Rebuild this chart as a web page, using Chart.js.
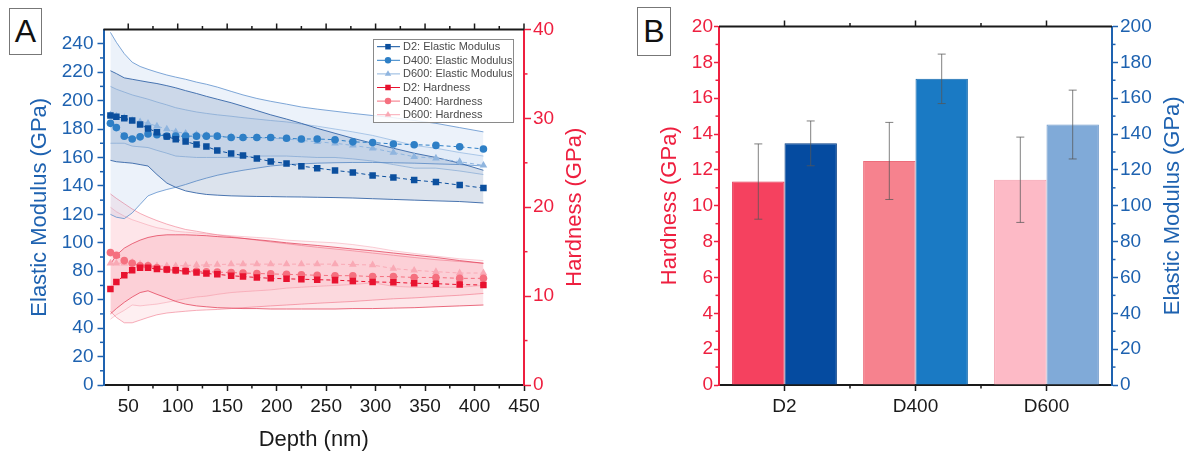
<!DOCTYPE html>
<html>
<head>
<meta charset="utf-8">
<script src="https://cdn.jsdelivr.net/npm/chart.js@4.4.1/dist/chart.umd.min.js"></script>
<style>
  html, body { margin: 0; padding: 0; background: #fff; }
  body { width: 1186px; height: 453px; position: relative; overflow: hidden; font-family: "Liberation Sans", Arial, sans-serif; }
  .panel { position: absolute; top: 0; height: 453px; }
  #panelA { left: 0; width: 600px; }
  #panelB { left: 600px; width: 586px; }
  .tag { position: absolute; box-sizing: border-box; border: 1.5px solid #777; background: #fff; color: #111; text-align: center; font-size: 32px; z-index: 2; }
  #tagA { left: 9px; top: 8px; width: 33px; height: 47px; line-height: 45px; }
  #tagB { left: 637px; top: 7px; width: 34px; height: 49px; line-height: 47px; }
</style>
</head>
<body>
<div class="panel" id="panelA"><canvas id="chartA" width="600" height="453"></canvas></div>
<div class="panel" id="panelB"><canvas id="chartB" width="586" height="453"></canvas></div>
<div class="tag" id="tagA">A</div>
<div class="tag" id="tagB">B</div>
<script>
// ---- Panel A: depth profiles (mean, and upper/lower edge of the spread band) ----
const depth = [32, 38, 46, 54, 62, 70, 79, 89, 98, 108, 119, 129, 140, 154, 166, 180, 194, 210, 225, 241, 259, 277, 297, 318, 339, 361, 385, 409];

const d2Modulus   = [189.5, 188.6, 187.6, 186, 183.2, 180.4, 177.8, 174.7, 172.8, 171.2, 169.1, 167.7, 164.9, 162.8, 161.4, 159.3, 157.2, 155.8, 153.9, 152.5, 150.9, 149.5, 147.4, 146, 144.1, 142.7, 140.6, 138.5];
const d2ModulusHi = [221, 219, 216, 215, 214, 213, 212, 210.5, 209, 207, 205, 203, 201, 198.5, 196, 193, 190, 187, 184, 180.5, 177, 173.5, 170, 166.5, 163, 160, 156, 151];
const d2ModulusLo = [158, 157, 156.5, 156, 155, 154, 148, 142, 139, 136.5, 135, 134, 133.5, 133, 132.8, 132.6, 132.5, 132.3, 132.2, 132, 131.8, 131.5, 131, 130.5, 130, 129.5, 129, 128];

const d400Modulus   = [184, 181, 175, 173, 174.5, 176.5, 176, 175, 175, 175, 175, 175, 175, 174, 174, 174, 174, 173.5, 173, 173, 172.5, 171, 170.5, 169.5, 169, 168.5, 167.5, 166];
const d400ModulusHi = [248, 241, 233, 227, 224, 222, 220, 218, 216.5, 215, 213, 211.5, 209.5, 206.5, 204, 201.5, 199.5, 197.5, 195.5, 194, 192.5, 191, 189.5, 188, 186, 184, 181, 178];
const d400ModulusLo = [120, 118, 117, 121, 127, 133, 135.5, 137.5, 139, 141, 143.5, 145.5, 147.5, 149.5, 151, 152.5, 154, 155, 155.5, 156, 156.3, 156.5, 156.5, 156.3, 156, 155.5, 155, 154];

const d600Modulus   = [190, 189, 188, 186, 185, 184, 182, 180, 178, 177, 176, 175.5, 175, 174.5, 174, 174, 173.5, 173, 172, 171, 170, 168.5, 166.5, 163.5, 160.5, 159.5, 157, 154.5];
const d600ModulusHi = [210, 208, 206, 204, 202.5, 201, 199, 197, 195, 193.5, 192, 191, 190, 189, 188, 187, 186, 185, 183.5, 182, 180, 178, 175.5, 172, 168.5, 166.5, 163.5, 161];
const d600ModulusLo = [170, 170, 170, 168, 167.5, 167, 165, 163, 161, 160.5, 160, 160, 160, 160, 160, 161, 161, 161, 160.5, 160, 160, 159, 157.5, 155, 152.5, 152.5, 150.5, 148];

const d2Hardness   = [10.8, 11.6, 12.35, 12.9, 13.2, 13.2, 13.05, 13.0, 12.9, 12.8, 12.65, 12.55, 12.45, 12.3, 12.2, 12.1, 12.0, 11.95, 11.9, 11.85, 11.8, 11.7, 11.6, 11.55, 11.45, 11.4, 11.3, 11.25];
const d2HardnessHi = [13.6, 14.6, 15.4, 15.9, 16.3, 16.6, 16.8, 16.9, 16.9, 16.9, 16.85, 16.8, 16.7, 16.6, 16.5, 16.35, 16.2, 16.0, 15.85, 15.7, 15.5, 15.3, 15.1, 14.85, 14.6, 14.35, 14.0, 13.7];
const d2HardnessLo = [8.0, 8.6, 9.3, 9.9, 10.4, 10.6, 10.2, 9.8, 9.4, 9.1, 8.9, 8.8, 8.7, 8.65, 8.6, 8.6, 8.55, 8.55, 8.55, 8.55, 8.55, 8.6, 8.6, 8.65, 8.7, 8.8, 8.9, 9.0];

const d400Hardness   = [14.9, 14.6, 14.0, 13.7, 13.4, 13.4, 13.2, 13.0, 12.9, 12.85, 12.8, 12.75, 12.7, 12.65, 12.6, 12.55, 12.5, 12.45, 12.4, 12.35, 12.3, 12.3, 12.2, 12.2, 12.1, 12.1, 12.0, 12.0];
const d400HardnessHi = [21.5, 21.0, 20.4, 19.8, 19.3, 18.9, 18.5, 18.1, 17.8, 17.5, 17.3, 17.1, 16.9, 16.7, 16.5, 16.3, 16.1, 15.9, 15.7, 15.5, 15.3, 15.1, 14.85, 14.6, 14.35, 14.1, 13.9, 13.7];
const d400HardnessLo = [8.3, 7.6, 7.0, 7.0, 7.3, 7.6, 7.9, 8.1, 8.2, 8.3, 8.4, 8.45, 8.5, 8.6, 8.7, 8.8, 8.9, 9.0, 9.1, 9.2, 9.3, 9.4, 9.55, 9.7, 9.8, 9.95, 10.1, 10.3];

const d600Hardness   = [13.7, 13.7, 13.7, 13.8, 13.6, 13.5, 13.4, 13.4, 13.4, 13.45, 13.5, 13.5, 13.55, 13.6, 13.6, 13.6, 13.6, 13.6, 13.6, 13.6, 13.6, 13.55, 13.5, 13.1, 12.9, 12.75, 12.6, 12.6];
const d600HardnessHi = [20.0, 19.5, 19.0, 18.6, 18.3, 18.0, 17.7, 17.5, 17.3, 17.2, 17.1, 17.0, 16.9, 16.8, 16.7, 16.6, 16.5, 16.3, 16.2, 16.1, 16.0, 15.8, 15.5, 15.1, 14.8, 14.5, 14.2, 14.0];
const d600HardnessLo = [7.4, 7.9, 8.4, 9.0, 8.9, 9.0, 9.1, 9.3, 9.5, 9.7, 9.9, 10.0, 10.2, 10.4, 10.5, 10.6, 10.7, 10.9, 11.0, 11.1, 11.2, 11.3, 11.5, 11.1, 11.0, 11.0, 11.0, 11.2];

const depthTicks = [50, 100, 150, 200, 250, 300, 350, 400, 450];
const modulusTicksA = [0, 20, 40, 60, 80, 100, 120, 140, 160, 180, 200, 220, 240];
const hardnessTicksA = [0, 10, 20, 30, 40];

// ---- Panel B: averages with standard deviation ----
const categories = ['D2', 'D400', 'D600'];
const hardnessMean = [11.35, 12.5, 11.45];
const hardnessSd = [2.1, 2.15, 2.38];
const modulusMean = [134.8, 170.8, 145.3];
const modulusSd = [12.5, 13.8, 19.2];

const hardnessTicksB = [0, 2, 4, 6, 8, 10, 12, 14, 16, 18, 20];
const modulusTicksB = [0, 20, 40, 60, 80, 100, 120, 140, 160, 180, 200];

// Styles
const FONT = '"Liberation Sans", Arial, Helvetica, sans-serif';
const BLUE = '#1e62b0';
const RED = '#ee1f3f';
const INK = '#1a1a1a';

const mids = a => a.slice(1).map((v, i) => (v + a[i]) / 2);
const pts = ys => depth.map((x, i) => ({ x, y: ys[i] }));
const useTicks = arr => s => { s.ticks = arr.map(v => ({ value: v })); };

function band(hi, lo, axis, edge, fillColor) {
  return [
    { data: pts(hi), yAxisID: axis, borderColor: edge, borderWidth: 1, pointRadius: 0, fill: '+1', backgroundColor: fillColor, order: 10 },
    { data: pts(lo), yAxisID: axis, borderColor: edge, borderWidth: 1, pointRadius: 0, fill: false, order: 10 }
  ];
}

function series(label, ys, axis, color, style, r) {
  return {
    label, data: pts(ys), yAxisID: axis, borderColor: color, backgroundColor: color,
    borderWidth: 1, borderDash: [4, 3], pointStyle: style, pointRadius: r,
    pointBorderWidth: 0, fill: false, order: 0
  };
}

function drawMarker(ctx, style, x, y, r, color) {
  ctx.fillStyle = color;
  ctx.beginPath();
  if (style === 'rect') {
    const s = r * Math.SQRT1_2;
    ctx.rect(x - s, y - s, 2 * s, 2 * s);
  } else if (style === 'circle') {
    ctx.arc(x, y, r, 0, Math.PI * 2);
  } else {
    ctx.moveTo(x, y - r);
    ctx.lineTo(x + r * 0.866, y + r * 0.5);
    ctx.lineTo(x - r * 0.866, y + r * 0.5);
    ctx.closePath();
  }
  ctx.fill();
}

// Top axis, minor ticks
const framePlugin = {
  id: 'frame',
  afterDraw(chart, args, opts) {
    const { ctx, chartArea: a } = chart;
    ctx.save();
    ctx.strokeStyle = INK;
    ctx.lineWidth = 2;
    ctx.beginPath();
    ctx.moveTo(a.left, a.top);
    ctx.lineTo(a.right, a.top);
    ctx.stroke();
    ctx.lineWidth = 1.5;
    const xs = chart.scales.x;
    xs.ticks.forEach((t, i) => {
      const px = xs.getPixelForTick(i);
      ctx.beginPath(); ctx.moveTo(px, a.top); ctx.lineTo(px, a.top - 6); ctx.stroke();
    });
    Object.keys(opts.minor || {}).forEach(id => {
      const s = chart.scales[id];
      ctx.strokeStyle = opts.colors[id];
      opts.minor[id].forEach(v => {
        const p = s.getPixelForValue(v);
        ctx.beginPath();
        if (id === 'x') {
          ctx.moveTo(p, a.bottom); ctx.lineTo(p, a.bottom + 3.5);
          ctx.moveTo(p, a.top); ctx.lineTo(p, a.top - 3.5);
        } else if (s.position === 'left') {
          ctx.moveTo(a.left, p); ctx.lineTo(a.left - 3.5, p);
        } else {
          ctx.moveTo(a.right, p); ctx.lineTo(a.right + 3.5, p);
        }
        ctx.stroke();
      });
    });
    ctx.restore();
  }
};

// Axis titles (both vertical titles read bottom to top)
const titlesPlugin = {
  id: 'titles',
  afterDraw(chart, args, opts) {
    const { ctx, chartArea: a } = chart;
    ctx.save();
    ctx.font = '22px ' + FONT;
    ctx.textAlign = 'center';
    ctx.textBaseline = 'middle';
    (opts.items || []).forEach(it => {
      ctx.fillStyle = it.color;
      if (it.side === 'bottom') {
        ctx.fillText(it.text, (a.left + a.right) / 2, a.bottom + it.offset);
        return;
      }
      const x = it.side === 'left' ? a.left - it.offset : a.right + it.offset;
      ctx.save();
      ctx.translate(x, (a.top + a.bottom) / 2);
      ctx.rotate(-Math.PI / 2);
      ctx.fillText(it.text, 0, 0);
      ctx.restore();
    });
    ctx.restore();
  }
};

// Boxed legend inside plot A
const legendBoxPlugin = {
  id: 'legendBox',
  afterDraw(chart, args, opts) {
    if (!opts.show) return;
    const { ctx, chartArea: a } = chart;
    const items = chart.data.datasets.filter(d => d.label);
    const x0 = a.right - 151, y0 = a.top + 9.5, w = 140, h = 83;
    ctx.save();
    ctx.fillStyle = 'rgba(255,255,255,0.85)';
    ctx.fillRect(x0, y0, w, h);
    ctx.strokeStyle = '#8a8a8a';
    ctx.lineWidth = 1;
    ctx.strokeRect(x0 + 0.5, y0 + 0.5, w, h);
    ctx.font = '11px ' + FONT;
    ctx.textBaseline = 'middle';
    items.forEach((d, i) => {
      const y = y0 + 7.7 + i * 13.6;
      ctx.strokeStyle = d.borderColor;
      ctx.beginPath(); ctx.moveTo(x0 + 4, y); ctx.lineTo(x0 + 27, y); ctx.stroke();
      drawMarker(ctx, d.pointStyle, x0 + 15, y, d.pointRadius * 0.85, d.backgroundColor);
      ctx.fillStyle = '#4a4a4a';
      ctx.fillText(d.label, x0 + 30, y + 0.5);
    });
    ctx.restore();
  }
};

// Error bars for panel B
const errorBarPlugin = {
  id: 'errorBars',
  afterDatasetsDraw(chart) {
    const { ctx } = chart;
    ctx.save();
    ctx.strokeStyle = 'rgba(85,85,85,0.75)';
    ctx.lineWidth = 1;
    chart.data.datasets.forEach((ds, i) => {
      if (!ds.errors) return;
      const s = chart.scales[ds.yAxisID];
      chart.getDatasetMeta(i).data.forEach((bar, j) => {
        const top = s.getPixelForValue(ds.data[j] + ds.errors[j]);
        const bot = s.getPixelForValue(ds.data[j] - ds.errors[j]);
        ctx.beginPath();
        ctx.moveTo(bar.x, top); ctx.lineTo(bar.x, bot);
        ctx.moveTo(bar.x - 4, top); ctx.lineTo(bar.x + 4, top);
        ctx.moveTo(bar.x - 4, bot); ctx.lineTo(bar.x + 4, bot);
        ctx.stroke();
      });
    });
    ctx.restore();
  }
};

const tickFont = { family: FONT, size: 19 };

new Chart(document.getElementById('chartA'), {
  type: 'line',
  data: {
    datasets: [
      ...band(d2ModulusHi, d2ModulusLo, 'y', 'rgba(45,95,165,0.85)', 'rgba(50,90,150,0.17)'),
      ...band(d400ModulusHi, d400ModulusLo, 'y', 'rgba(95,145,205,0.8)', 'rgba(100,150,210,0.12)'),
      ...band(d600ModulusHi, d600ModulusLo, 'y', 'rgba(150,185,225,0.7)', 'rgba(150,185,225,0.10)'),
      ...band(d2HardnessHi, d2HardnessLo, 'y1', 'rgba(225,60,85,0.75)', 'rgba(240,70,95,0.13)'),
      ...band(d400HardnessHi, d400HardnessLo, 'y1', 'rgba(240,120,140,0.6)', 'rgba(245,110,130,0.11)'),
      ...band(d600HardnessHi, d600HardnessLo, 'y1', 'rgba(245,165,180,0.55)', 'rgba(248,150,165,0.11)'),
      series('D2: Elastic Modulus', d2Modulus, 'y', '#0b4f9e', 'rect', 4.6),
      series('D400: Elastic Modulus', d400Modulus, 'y', '#2e7fc6', 'circle', 3.8),
      series('D600: Elastic Modulus', d600Modulus, 'y', '#8fb5df', 'triangle', 4.4),
      series('D2: Hardness', d2Hardness, 'y1', '#e8122f', 'rect', 4.6),
      series('D400: Hardness', d400Hardness, 'y1', '#f5707f', 'circle', 3.8),
      series('D600: Hardness', d600Hardness, 'y1', '#f9a9b5', 'triangle', 4.4)
    ]
  },
  options: {
    responsive: false,
    animation: false,
    layout: { padding: { top: 29.5, left: 0, right: 0, bottom: 0 } },
    plugins: {
      legend: { display: false },
      tooltip: { enabled: false },
      legendBox: { show: true },
      frame: {
        minor: { x: mids(depthTicks), y: mids(modulusTicksA), y1: mids(hardnessTicksA) },
        colors: { x: INK, y: BLUE, y1: RED }
      },
      titles: {
        items: [
          { text: 'Elastic Modulus (GPa)', side: 'left', offset: 63.5, color: BLUE },
          { text: 'Hardness (GPa)', side: 'right', offset: 51, color: RED },
          { text: 'Depth (nm)', side: 'bottom', offset: 55, color: INK }
        ]
      }
    },
    scales: {
      x: {
        type: 'linear', min: 25, max: 450,
        afterBuildTicks: useTicks(depthTicks),
        afterFit: s => { s.height = 68; },
        ticks: { color: INK, font: tickFont, padding: 4, maxRotation: 0 },
        grid: { drawOnChartArea: false, tickLength: 6, tickColor: INK, tickWidth: 1.5 },
        border: { color: INK, width: 2 }
      },
      y: {
        position: 'left', min: 0, max: 250,
        afterBuildTicks: useTicks(modulusTicksA),
        afterFit: s => { s.width = 103.5; },
        ticks: { color: BLUE, font: tickFont, padding: 4 },
        grid: { drawOnChartArea: false, tickLength: 6, tickColor: BLUE, tickWidth: 1.5 },
        border: { color: BLUE, width: 2 }
      },
      y1: {
        position: 'right', min: 0, max: 40,
        afterBuildTicks: useTicks(hardnessTicksA),
        afterFit: s => { s.width = 76; },
        ticks: { color: RED, font: tickFont, padding: 2 },
        grid: { drawOnChartArea: false, tickLength: 7, tickColor: RED, tickWidth: 1.5 },
        border: { color: RED, width: 2 }
      }
    }
  },
  plugins: [framePlugin, titlesPlugin, legendBoxPlugin]
});

new Chart(document.getElementById('chartB'), {
  type: 'bar',
  data: {
    labels: categories,
    datasets: [
      {
        label: 'Hardness', data: hardnessMean, errors: hardnessSd, yAxisID: 'y',
        backgroundColor: ['#f5415f', '#f6828e', '#fdbac6'],
        borderColor: ['#e02a4a', '#ec6d7b', '#f39cab'], borderWidth: 1
      },
      {
        label: 'Elastic Modulus', data: modulusMean, errors: modulusSd, yAxisID: 'y1',
        backgroundColor: ['#054ba0', '#1a7ac4', '#80aad8'],
        borderColor: ['#043d85', '#156aad', '#6c98c9'], borderWidth: 1
      }
    ]
  },
  options: {
    responsive: false,
    animation: false,
    layout: { padding: { top: 26.5, left: 0, right: 0, bottom: 0 } },
    datasets: { bar: { categoryPercentage: 0.8, barPercentage: 1 } },
    plugins: {
      legend: { display: false },
      tooltip: { enabled: false },
      frame: {
        minor: { x: mids([0, 1, 2]), y: mids(hardnessTicksB), y1: mids(modulusTicksB) },
        colors: { x: INK, y: RED, y1: BLUE }
      },
      titles: {
        items: [
          { text: 'Hardness (GPa)', side: 'left', offset: 49, color: RED },
          { text: 'Elastic Modulus (GPa)', side: 'right', offset: 61, color: BLUE }
        ]
      }
    },
    scales: {
      x: {
        type: 'category', offset: true,
        afterFit: s => { s.height = 68; },
        ticks: { color: INK, font: tickFont, padding: 4, maxRotation: 0 },
        grid: { offset: false, drawOnChartArea: false, tickLength: 6, tickColor: INK, tickWidth: 1.5 },
        border: { color: INK, width: 2 }
      },
      y: {
        position: 'left', min: 0, max: 20,
        afterBuildTicks: useTicks(hardnessTicksB),
        afterFit: s => { s.width = 119; },
        ticks: { color: RED, font: tickFont, padding: 1 },
        grid: { drawOnChartArea: false, tickLength: 5, tickColor: RED, tickWidth: 1.5 },
        border: { color: RED, width: 2 }
      },
      y1: {
        position: 'right', min: 0, max: 200,
        afterBuildTicks: useTicks(modulusTicksB),
        afterFit: s => { s.width = 74; },
        ticks: { color: BLUE, font: tickFont, padding: 2 },
        grid: { drawOnChartArea: false, tickLength: 6, tickColor: BLUE, tickWidth: 1.5 },
        border: { color: BLUE, width: 2 }
      }
    }
  },
  plugins: [framePlugin, titlesPlugin, errorBarPlugin]
});
</script>
</body>
</html>
